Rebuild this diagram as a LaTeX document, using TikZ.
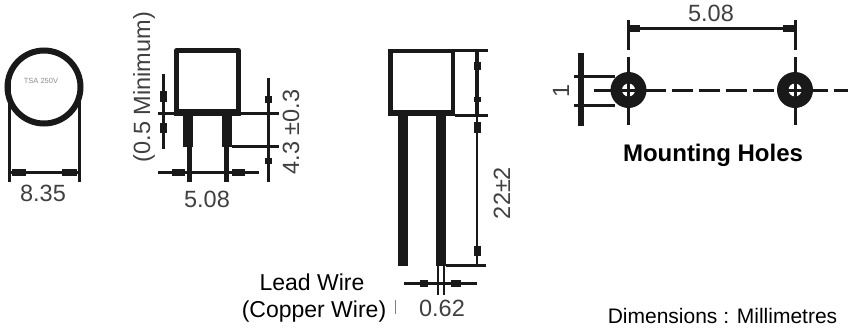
\documentclass[tikz,border=0pt]{standalone}
\usepackage{fontspec}
\setmainfont{Liberation Sans}
\tikzset{
 thickln/.style={line width=5pt,black!90},
 midln/.style={line width=3pt,black!90},
 thinln/.style={line width=2pt,black!90},
 blob/.style={line width=7pt,black!90},
 dimtxt/.style={inner sep=0pt,text=black!75,font=\fontsize{23.5}{24}\selectfont},
 lab/.style={inner sep=0pt,font=\fontsize{23}{24}\selectfont}
}
\begin{document}
\begin{tikzpicture}[x=1pt,y=-1pt]
\useasboundingbox (0,0) rectangle (848,327);
% --- end view
\draw[line width=6pt,black!90] (44,87) circle (36.5);
\draw[midln] (9,77) -- (9,182);
\draw[midln] (79,77) -- (79,182);
\draw[midln] (9,172) -- (79,172);
\draw[blob] (12,172) -- (26,172) (62,172) -- (77,172);
\node[inner sep=0pt,text=black!45,font=\fontsize{7.5}{8}\selectfont] (mark) at (41,81) {TSA 250V};
\node[dimtxt] (d835) at (43,193) {8.35};
% --- front view
\draw[thickln,line join=round] (176.5,50.5) rectangle (238.5,112);
\draw[line width=7pt,black!90] (174,112) -- (241,112);
\draw[midln] (158,113) -- (279,113);
\draw[line width=10pt,black!90] (188,116) -- (188,147);
\draw[line width=10pt,black!90] (227,116) -- (227,147);
\draw[line width=5pt,black!90] (189,147) -- (189,182);
\draw[line width=5pt,black!90] (226.5,147) -- (226.5,182);
\draw[midln] (232,146) -- (279,146);
\draw[midln] (163,74) -- (163,149);
\draw[blob] (163,91) -- (163,102) (163,123) -- (163,133);
\draw[midln] (268,78) -- (268,182);
\draw[blob] (268,96) -- (268,103) (268,158) -- (268,164);
\draw[midln] (158,172) -- (259,172);
\draw[blob] (172,172) -- (185,172) (232,172) -- (245,172);
\node[dimtxt,rotate=90] (dmin) at (144,87) {(0.5 Minimum)};
\node[dimtxt,rotate=90] (dtol) at (291,132) {4.3 ±0.3};
\node[dimtxt] (d508a) at (207,199) {5.08};
% --- side view
\draw[line width=4.5pt,black!90] (390.5,51) rectangle (453,112);
\draw[line width=6pt,black!90] (388,113) -- (455,113);
\draw[midln] (388,50) -- (488,50);
\draw[midln] (455,115) -- (488,115);
\fill[black!90] (398,113) rectangle (408,266);
\fill[black!90] (436,113) rectangle (446,266);
\draw[line width=4pt,black!90] (477,50) -- (477,116);
\draw[thinln] (477,116) -- (477,266);
\draw[blob] (477,62) -- (477,70) (477,97) -- (477,102) (477,122) -- (477,133) (477,246) -- (477,256);
\draw[midln] (446,265) -- (486,265);
\draw[thinln] (438,266) -- (438,295);
\draw[thinln] (444,266) -- (444,295);
\draw[midln] (404,283) -- (477,283);
\draw[blob] (420,283) -- (428,283) (451,283) -- (461,283);
\draw[line width=1pt,black!50] (395,300) -- (395,314);
\node[dimtxt] (d062) at (442,308) {0.62};
\node[dimtxt,rotate=90] (d22) at (502,193) {22±2};
\node[lab] (lw1) at (312,282) {Lead Wire};
\node[lab] (lw2) at (314,312) {(Copper Wire)};
% --- mounting holes
\draw[line width=3pt,black!90,dash pattern=on 21pt off 6pt] (645,90) -- (848,90);
\draw[midln] (594,90) -- (612,90);
\draw[midln] (628,20) -- (628,50) (628,57) -- (628,125);
\draw[midln] (795,20) -- (795,50) (795,57) -- (795,125);
\draw[midln] (628,28) -- (795,28);
\draw[blob] (630,28) -- (640,28) (783,28) -- (794,28);
\fill[black!90] (628.5,90) circle (18) (795,90) circle (18);
\fill[white] (628.5,90) circle (6.5) (795,90) circle (6.5);
\draw[midln] (628.5,83) -- (628.5,97) (621,90) -- (636,90);
\draw[midln] (795,83) -- (795,97) (788,90) -- (802,90);
\draw[line width=6pt,black!90] (581,53) -- (581,126);
\draw[midln] (574,76) -- (615,76) (574,105) -- (615,105);
\node[inner sep=0pt,text=black!75,font=\fontsize{23.5}{24}\selectfont,rotate=90] (d1) at (561,91) {1};
\node[dimtxt] (d508b) at (711,13) {5.08};
\node[lab,font=\bfseries\fontsize{24}{24}\selectfont] (mh) at (713,155) {Mounting Holes};
\node[inner sep=0pt,font=\fontsize{21}{22}\selectfont] (dm) at (722.5,316) {Dimensions : Millimetres};
\end{tikzpicture}
\end{document}
